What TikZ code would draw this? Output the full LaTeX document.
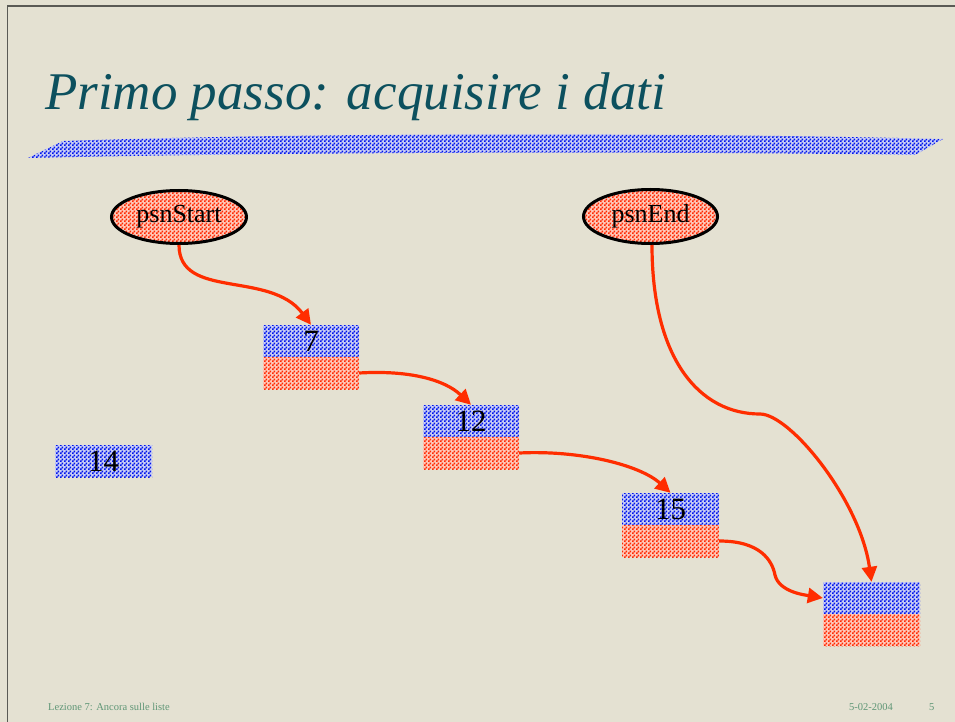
\documentclass[tikz,border=0pt]{standalone}
\usepackage{fontspec}
\setmainfont{Liberation Serif}
\usetikzlibrary{shapes.geometric,arrows.meta,patterns}
\pgfdeclarepatternformonly{finecheck}{\pgfpointorigin}{\pgfqpoint{4pt}{4pt}}{\pgfqpoint{4pt}{4pt}}{%
  \pgfpathrectangle{\pgfpointorigin}{\pgfqpoint{2pt}{2pt}}%
  \pgfpathrectangle{\pgfqpoint{2pt}{2pt}}{\pgfqpoint{2pt}{2pt}}%
  \pgfusepath{fill}}
\definecolor{bg}{RGB}{228,225,210}
\definecolor{framec}{RGB}{90,90,85}
\definecolor{titlec}{RGB}{12,80,94}
\definecolor{footc}{RGB}{95,150,118}
\definecolor{arrowred}{RGB}{255,45,0}
\definecolor{chkblue}{RGB}{0,20,235}
\definecolor{chkred}{RGB}{255,40,0}
\definecolor{lightblue}{RGB}{200,205,245}
\definecolor{lightred}{RGB}{255,200,185}
\tikzset{
  blueh/.style={rectangle, minimum width=96pt, minimum height=32pt, inner sep=0pt,
    preaction={fill=lightblue}, pattern=finecheck, pattern color=chkblue,
    font=\fontsize{31}{31}\selectfont},
  redh/.style={rectangle, minimum width=96pt, minimum height=32pt, inner sep=0pt,
    preaction={fill=lightred}, pattern=finecheck, pattern color=chkred},
  ptr/.style={ellipse, draw=black, line width=3pt, inner sep=0pt,
    preaction={fill=lightred}, pattern=finecheck, pattern color=chkred,
    font=\fontsize{26}{26}\selectfont},
  arr/.style={draw=arrowred, line width=3.2pt, -{Triangle[length=15pt,width=15pt]}},
  foot/.style={anchor=base west, inner sep=0pt, text=footc, font=\fontsize{10.5}{11}\selectfont}
}
\begin{document}
\begin{tikzpicture}[x=1pt,y=-1pt]
\useasboundingbox (0,0) rectangle (955,722);
\fill[bg] (0,0) rectangle (955,722);
\draw[framec, line width=1.5pt] (7.5,725) -- (7.5,6) -- (958,6);
% title
\node[anchor=base west, inner sep=0pt, text=titlec, font=\fontsize{53}{60}\selectfont\itshape] (title) at (45,110) {Primo passo: acquisire i dati};
% band
\fill[preaction={fill=lightblue}, pattern=finecheck, pattern color=chkblue]
  (28,158) -- (63,141) .. controls (300,133) and (650,132) .. (943,139)
  -- (915,155) .. controls (650,151) and (300,152) .. (28,158) -- cycle;
% pointers
\node[ptr, minimum width=135pt, minimum height=53pt] (start) at (179,217) {psnStart};
\node[ptr, minimum width=134pt, minimum height=54pt] (end) at (650.5,216.5) {psnEnd};
% list nodes
\node[blueh] (n7) at (311,341) {\raisebox{-1pt}{7}};
\node[redh] (n7r) at (311,373) {};
\node[blueh] (n12) at (471,421) {\raisebox{-1pt}{12}};
\node[redh] (n12r) at (471,453) {};
\node[blueh, minimum width=97pt] (n14) at (103.5,461) {\raisebox{-1.5pt}{14}};
\node[blueh, minimum width=97pt] (n15) at (670.5,509) {\raisebox{-1pt}{15}};
\node[redh, minimum width=97pt] (n15r) at (670.5,541) {};
\node[blueh, minimum width=97pt] (nL) at (871.5,598) {};
\node[redh, minimum width=97pt] (nLr) at (871.5,630) {};
% arrows
\draw[arr] (start.south) .. controls (179,300) and (270,270) .. (n7.north);
\draw[arr] (n7r.east) .. controls (410,370) and (445,380) .. (n12.north);
\draw[arr] (n12r.east) .. controls (580,450) and (640,465) .. (n15.north);
\coordinate (bend) at (775,575);
\draw[arr] (n15r.east) .. controls (760,541) and (772,560) .. (bend)
  .. controls (779,592) and (805,595) .. (nL.west);
\coordinate (mid) at (760,414);
\draw[arr] ([xshift=1.5pt]end.south) .. controls (652,360) and (700,414) .. (mid)
  .. controls (790,414) and (860,500) .. (nL.north);
% footer
\node[foot] (f1) at (48,710) {Lezione 7: Ancora sulle liste};
\node[foot] (f2) at (849,710) {5-02-2004};
\node[foot] (f3) at (929,710) {5};
\end{tikzpicture}
\end{document}
